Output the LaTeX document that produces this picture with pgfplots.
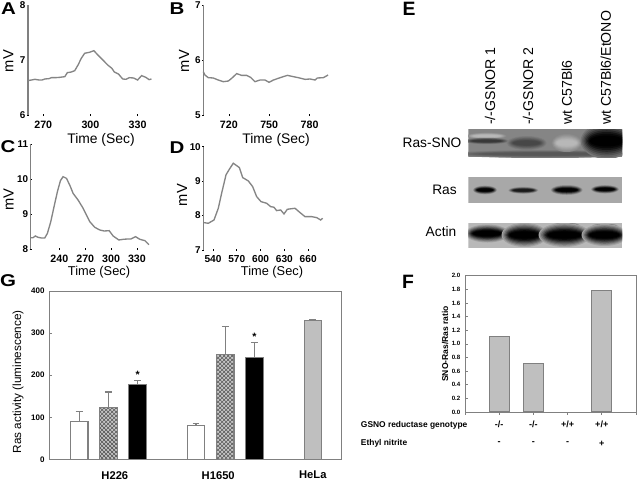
\documentclass[border=0pt]{standalone}
\usepackage{fontspec}
\setmainfont{Liberation Sans}
\usepackage{pgfplots}
\pgfplotsset{compat=1.18}
\usetikzlibrary{patterns}
\newcommand\fs[1]{\fontsize{#1}{#1}\selectfont}
\definecolor{trace}{gray}{0.52}
\definecolor{spine}{gray}{0.5}
\pgfplotsset{
  common/.style={
    scale only axis,
    /pgf/number format/assume math mode=true,
    anchor=south west,
    clip=false,
  },
  trc/.style={
    common,
    axis lines=left,
    axis line style={-, draw=spine, line width=0.8pt},
    x axis line style={draw=none},
    tick style={black, line width=0.5pt},
    major tick length=1.6pt,
    tick pos=left,
    ticklabel style={font=\fs{8}\bfseries},
    xticklabel style={yshift=0pt},
    yticklabel style={xshift=2.4pt, font=\fs{7.4}\bfseries},
    scaled ticks=false,
  },
  bx/.style={
    common,
    axis line style={draw=spine, line width=0.7pt},
    tick style={spine, line width=0.5pt},
    major tick length=2pt,
    tick pos=left,
  },
}
\newcommand\band[6]{%
  \foreach \s/\m in {1/12,.9/25,.8/40,.7/55,.6/70,.5/85,.4/95,.3/100}{
    \fill[color=#6!\m!#5] (#1,#2) ellipse ({#3*(1+\s)/2} and {#4*\s});
  }%
}
\newcommand\panel[3]{\node[font=\fs{12.8}\bfseries, xscale=1.2, inner sep=0pt] at (#1,#2) {#3};}
\begin{document}
\begin{tikzpicture}[x=0.75pt,y=-0.75pt]
\path[use as bounding box, fill=white] (0,0) rectangle (638,480);

% ---- Panel A
\begin{axis}[trc, at={(28*0.75pt,-115*0.75pt)}, width=92.6pt, height=82.5pt,
  xmin=260.3, xmax=338.8, ymin=6, ymax=8, xtick={270,300,330}, ytick={6,7,8}]
\addplot[trace, line width=1pt] coordinates {
(260.1,6.625)(262.6,6.637)(264.7,6.649)(267.2,6.637)(269.3,6.637)(271.0,6.655)(273.6,6.661)(275.2,6.679)
(277.8,6.679)(280.5,6.685)(283.7,6.697)(285.3,6.770)(287.9,6.782)(290.0,6.806)(292.1,6.909)(294.2,7.031)
(296.3,7.122)(299.4,7.140)(302.2,7.170)(304.7,7.091)(307.9,7.000)(311.0,6.909)(313.6,6.849)(315.2,6.782)
(317.8,6.746)(320.5,6.655)(322.6,6.649)(324.7,6.679)(327.4,6.673)(330.0,6.637)(332.5,6.716)(335.2,6.685)
(337.3,6.643)(338.8,6.655)};
\end{axis}

% ---- Panel B
\begin{axis}[trc, at={(203.3*0.75pt,-115*0.75pt)}, width=93.8pt, height=82.5pt,
  xmin=701, xmax=794, ymin=5, ymax=7, xtick={720,750,780}, ytick={5,6,7}]
\addplot[trace, line width=1pt] coordinates {
(701.0,5.788)(702.2,5.727)(704.7,5.679)(708.4,5.673)(712.1,5.636)(715.9,5.606)(719.6,5.618)(722.1,5.667)
(725.8,5.752)(729.5,5.721)(733.2,5.721)(736.2,5.685)(739.4,5.606)(743.2,5.636)(746.9,5.636)(749.9,5.594)
(753.1,5.636)(756.8,5.667)(760.5,5.697)(763.5,5.721)(768.0,5.697)(771.7,5.679)(776.7,5.648)(780.4,5.655)
(784.1,5.636)(785.8,5.673)(790.3,5.679)(793.8,5.727)};
\end{axis}

% ---- Panel C
\begin{axis}[trc, at={(30.7*0.75pt,-249*0.75pt)}, width=88.7pt, height=78.75pt,
  xmin=206.7, xmax=344, ymin=8, ymax=11, xtick={240,270,300,330}, ytick={8,9,10,11}]
\addplot[trace, line width=1pt] coordinates {
(206.7,8.324)(209.4,8.324)(212.1,8.372)(215.2,8.334)(219.1,8.315)(223.0,8.315)(226.1,8.448)(230.0,8.781)
(233.8,9.210)(237.7,9.638)(241.2,9.952)(244.3,10.067)(248.2,10.019)(252.0,9.829)(255.9,9.591)(261.7,9.400)
(267.6,9.162)(271.4,8.972)(275.3,8.781)(281.1,8.619)(287.0,8.543)(292.0,8.515)(297.8,8.524)(302.4,8.372)
(309.0,8.258)(314.1,8.277)(319.1,8.286)(323.0,8.286)(328.4,8.353)(333.4,8.277)(339.3,8.239)(343.9,8.125)};
\end{axis}

% ---- Panel D
\begin{axis}[trc, at={(203.3*0.75pt,-250*0.75pt)}, width=89.5pt, height=77.5pt,
  xmin=527.8, xmax=678.2, ymin=7, ymax=10, xtick={540,570,600,630,660}, ytick={7,8,9,10},
  xticklabel style={font=\fs{7.6}\bfseries}]
\addplot[trace, line width=1pt] coordinates {
(528.6,7.795)(534.1,7.776)(541.3,7.872)(546.7,8.212)(550.9,8.648)(556.4,9.181)(560.6,9.345)(565.6,9.520)
(573.2,9.394)(577.4,9.103)(584.5,9.006)(590.0,8.841)(595.0,8.551)(600.5,8.405)(607.6,8.357)(612.7,8.260)
(616.9,8.241)(620.2,8.144)(625.3,8.163)(629.5,8.047)(633.7,8.183)(643.4,8.212)(649.7,8.086)(656.0,7.969)
(664.4,7.969)(670.7,7.940)(675.7,7.872)(678.2,7.921)};
\end{axis}

% labels of the traces
\foreach \x/\y in {8.3/61,184/61,8.7/199.5,182/195}{
  \node[rotate=90, font=\fs{11}, inner sep=0pt] at (\x,\y) {mV};
}
\node[font=\fs{10.4}, inner sep=0pt] at (101,139.7) {Time (Sec)};
\node[font=\fs{10.4}, inner sep=0pt] at (276,139.7) {Time (Sec)};
\node[font=\fs{9.6}, inner sep=0pt] at (99,272) {Time (Sec)};
\node[font=\fs{9.6}, inner sep=0pt] at (272,272) {Time (Sec)};
\panel{8.5}{9}{A}
\panel{177}{8.5}{B}
\panel{8}{146.5}{C}
\panel{177}{148}{D}
\panel{8}{281}{G}
\node[font=\fs{14.5}\bfseries, inner sep=0pt] at (409,9) {E};
\node[font=\fs{14.5}\bfseries, inner sep=0pt] at (408,281.5) {F};

% ---- Panel E (blots)
\definecolor{bgS}{gray}{0.52}
\definecolor{bgR}{gray}{0.66}
\definecolor{bgA}{gray}{0.72}
\definecolor{dkS}{gray}{0.22}
\definecolor{dkM}{gray}{0.28}
\definecolor{ltS}{gray}{0.72}
\definecolor{dkL}{gray}{0.34}
\definecolor{dkK}{gray}{0.1}
\begin{scope}
\clip (468.3,129) rectangle (622,157);
\fill[bgS] (468.3,129) rectangle (622,157);
\band{545}{154}{95}{4}{bgS}{dkL}
\band{486.7}{136}{20}{3.4}{bgS}{ltS}
\band{486.7}{141}{22}{3.2}{bgS}{dkS}
\band{526.7}{143}{20}{7}{bgS}{dkM}
\band{566.7}{143}{15}{9}{bgS}{ltS}
\band{606.7}{141}{26}{18}{bgS}{black}
\end{scope}
\begin{scope}
\clip (468.3,177) rectangle (622,203);
\fill[bgR] (468.3,177) rectangle (622,203);
\band{485}{190}{12}{4.4}{bgR}{black}
\band{523.3}{190.3}{15}{3.4}{bgR}{dkK}
\band{566.7}{190}{16}{5}{bgR}{black}
\band{605}{189.3}{14}{4.2}{bgR}{black}
\end{scope}
\begin{scope}
\clip (468.3,223) rectangle (622,248);
\fill[bgA] (468.3,223) rectangle (622,248);
\band{524}{225.5}{13}{1.8}{bgA}{dkL}
\band{566}{225.3}{14}{2.8}{bgA}{dkS}
\band{605}{225.5}{13}{1.8}{bgA}{dkL}
\band{487.3}{233.5}{22}{9}{bgA}{black}
\band{524.5}{235}{23}{12}{bgA}{black}
\band{564.5}{235}{26}{12}{bgA}{black}
\band{604.5}{235}{23}{11}{bgA}{black}
\end{scope}
\node[font=\fs{10.3}, inner sep=0pt] at (432,143) {Ras-SNO};
\node[font=\fs{10.3}, inner sep=0pt] at (444.5,190) {Ras};
\node[font=\fs{10.3}, inner sep=0pt] at (441,232) {Actin};
\foreach \x/\t in {490/{-/-GSNOR 1},528/{-/-GSNOR 2},566.7/{wt C57Bl6},605.7/{wt C57Bl6/EtONO}}{
  \node[rotate=90, anchor=west, font=\fs{10.6}, inner sep=0pt] at (\x,125) {\t};
}

% ---- Panel G
\begin{axis}[bx, at={(49.3*0.75pt,-459.3*0.75pt)}, width=218.8pt, height=126.2pt,
  xmin=-0.024, xmax=9.966, ymin=0, ymax=400,
  ytick={0,100,200,300,400}, xtick={2.22,5.76,9}, xticklabels={H226,H1650,HeLa},
  x tick style={draw=none},
  xticklabel style={font=\fs{8.4}\bfseries, yshift=-3.4pt},
  yticklabel style={font=\fs{6}\bfseries},
  ylabel={Ras activity (luminescence)},
  ylabel style={font=\fs{8.8}, at={(axis description cs:-0.107,0.46)}, anchor=center, rotate=0},
  error bars/y dir=plus, error bars/y explicit,
  error bars/error bar style={spine, line width=0.8pt},
  error bars/error mark options={rotate=90, spine, mark size=2.6pt, line width=0.8pt},
  ybar, bar shift=0pt, bar width=13.2pt]
\addplot[draw=spine, line width=0.8pt, fill=white] coordinates {(1,90)+-(0,24) (5,80)+-(0,6)};
\addplot[draw=spine, line width=0.8pt, fill=gray!45, postaction={pattern=crosshatch, pattern color=black!65}] coordinates {(2,124)+-(0,36) (6,250)+-(0,66)};
\addplot[draw=spine, line width=0.8pt, fill=black] coordinates {(3,178)+-(0,10) (7,242)+-(0,36)};
\addplot[draw=spine, line width=0.8pt, fill=gray!50!white] coordinates {(9,329)+-(0,3)};
\node[font=\fs{8}\bfseries, inner sep=0pt] at (axis cs:3,200) {*};
\node[font=\fs{8}\bfseries, inner sep=0pt] at (axis cs:7,292) {*};
\end{axis}

% ---- Panel F
\begin{axis}[bx, at={(465*0.75pt,-412*0.75pt)}, width=128.25pt, height=102.2pt,
  xmin=0, xmax=5, ymin=0, ymax=2,
  ytick={0,0.2,...,2.01}, xtick={0,1,2,3,4,5}, xticklabels={,-/-,-/-,+/+,+/+,},
  /pgf/number format/fixed, /pgf/number format/fixed zerofill, /pgf/number format/precision=1,
  xticklabel style={font=\fs{6.8}\bfseries, yshift=-1.4pt},
  yticklabel style={font=\fs{4.6}\bfseries},
  ylabel={SNO-Ras/Ras ratio},
  ylabel style={font=\fs{6.4}\bfseries, at={(axis description cs:-0.117,0.5)}, anchor=center},
  ybar, bar shift=0pt, bar width=15pt]
\addplot[draw=spine, line width=0.8pt, fill=gray!50!white] coordinates {(1,1.11)(2,0.71)(4,1.79)};
\node[font=\fs{6.8}\bfseries, inner sep=0pt] at (axis cs:1,-0.46) {-};
\node[font=\fs{6.8}\bfseries, inner sep=0pt] at (axis cs:2,-0.46) {-};
\node[font=\fs{6.8}\bfseries, inner sep=0pt] at (axis cs:3,-0.46) {-};
\node[font=\fs{6.8}\bfseries, inner sep=0pt] at (axis cs:4,-0.46) {+};
\end{axis}
\node[anchor=west, font=\fs{6.3}\bfseries, inner sep=0pt] at (360.7,425) {GSNO reductase genotype};
\node[anchor=west, font=\fs{6.3}\bfseries, inner sep=0pt] at (360.7,443) {Ethyl nitrite};
\end{tikzpicture}
\end{document}
